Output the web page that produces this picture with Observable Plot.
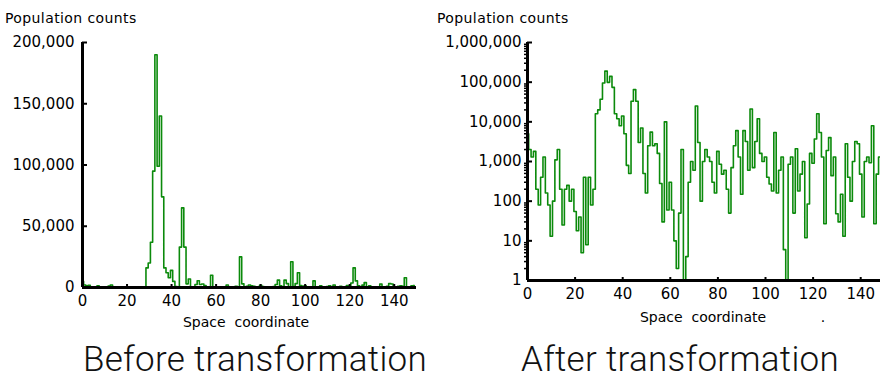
<!DOCTYPE html>
<html>
<head>
<meta charset="utf-8">
<script src="https://cdn.jsdelivr.net/npm/d3@7"></script>
<script src="https://cdn.jsdelivr.net/npm/@observablehq/plot@0.6"></script>
<style>
html, body { margin: 0; padding: 0; background: #fff; overflow: hidden; width: 880px; height: 379px; }
#root { position: relative; width: 880px; height: 379px; overflow: hidden; }
.panel { position: absolute; top: 0; height: 335px; }
.panel svg { max-width: none !important; }
.ylab { position: absolute; font-family: "DejaVu Sans"; font-size: 14px; line-height: 14px; letter-spacing: 0.4px; color: #000; white-space: pre; }
.xlab { position: absolute; font-family: "DejaVu Sans"; font-size: 14px; line-height: 14px; color: #000; white-space: pre; transform: translateX(-50%); }
.cap { position: absolute; font-family: "Roboto", "Liberation Sans"; font-weight: 300; font-size: 35px; line-height: 35px; letter-spacing: 0.3px; color: #111; white-space: nowrap; transform: translateX(-50%); }
</style>
</head>
<body>
<div id="root">
  <div class="ylab" style="left:5px; top:11px;">Population counts</div>
  <div class="ylab" style="left:437px; top:11px;">Population counts</div>
  <div class="panel" id="left" style="left:0px; width:440px;"></div>
  <div class="panel" id="right" style="left:440px; width:460px;"></div>
  <div class="xlab" style="left:246px; top:315px;">Space  coordinate</div>
  <div class="xlab" style="left:703px; top:310px;">Space  coordinate</div>
  <div class="xlab" style="left:823px; top:310px;">.</div>
  <div class="cap" style="left:255px; top:342px;">Before transformation</div>
  <div class="cap" style="left:680px; top:342px;">After transformation</div>
</div>
<script>
// Population counts at each integer space coordinate 0..149
const counts = [
  5000, 2000, 1300, 1800, 200, 80, 400, 1300, 160, 80,
  13, 100, 1100, 2000, 200, 25, 200, 250, 100, 200,
  55, 18, 40, 5, 400, 8, 400, 80, 200, 16000,
  20000, 37000, 95000, 190000, 99000, 140000, 74000, 16000, 12000, 8000,
  14000, 5000, 800, 500, 33000, 65000, 33000, 3000, 7000, 500,
  160, 2500, 5500, 2500, 2800, 1600, 280, 30, 10000, 60,
  300, 60, 10, 2, 50, 2000, 1, 4, 300, 1000,
  600, 25000, 3000, 100, 1000, 2000, 1300, 1000, 300, 160,
  1800, 850, 480, 600, 200, 50, 700, 2500, 6000, 1300,
  150, 6000, 3200, 600, 21000, 700, 3200, 12000, 1600, 1000,
  1300, 400, 270, 180, 5400, 160, 600, 1300, 6, 1,
  850, 1300, 50, 2100, 180, 480, 1000, 12, 85, 1600,
  900, 3700, 16000, 5400, 1300, 27, 1900, 4000, 440, 1300,
  48, 30, 150, 13, 2800, 400, 100, 1000, 3200, 2800,
  480, 40, 1000, 1300, 930, 8000, 27, 480, 1300, 1600
];
const xTicks = [0, 20, 40, 60, 80, 100, 120, 140];
const yTicksLinear = [0, 50000, 100000, 150000, 200000];
const yTicksLog = [1, 10, 100, 1000, 10000, 100000, 1000000];

const table = counts.map((c, i) => ({x: i, count: c}));
const GREEN = "#0b8a0b";
const fmt = d3.format(",");
const style = {fontFamily: "DejaVu Sans", fontSize: "15px", color: "#000", background: "transparent", overflow: "visible", maxWidth: "none"};

const left = Plot.plot({
  width: 440, height: 335,
  marginLeft: 82, marginRight: 24, marginTop: 42, marginBottom: 48,
  x: {domain: [0, 150], label: null},
  y: {domain: [0, 200000], label: null},
  style,
  marks: [
    Plot.line(table, {x: "x", y: "count", curve: "step", stroke: GREEN, strokeWidth: 1.6}),
    Plot.ruleX([0], {stroke: "#000", strokeWidth: 3}),
    Plot.ruleY([0], {stroke: "#000", strokeWidth: 3}),
    Plot.axisY(yTicksLinear, {tickSize: -5, tickPadding: 13, tickFormat: fmt, strokeWidth: 2, label: null}),
    Plot.axisX(xTicks, {tickSize: -3, tickPadding: 11, strokeWidth: 2, label: null})
  ]
});
document.getElementById("left").appendChild(left);

const minorTicks = d3.scaleLog().domain([1, 1e6]).ticks().filter(t => !yTicksLog.includes(t));

const right = Plot.plot({
  width: 460, height: 335,
  marginLeft: 87, marginRight: 16, marginTop: 42, marginBottom: 55,
  x: {domain: [0, 150], label: null},
  y: {type: "log", domain: [1, 1e6], label: null},
  style,
  marks: [
    Plot.line(table, {x: "x", y: "count", curve: "step", stroke: GREEN, strokeWidth: 1.6}),
    Plot.ruleX([0], {stroke: "#000", strokeWidth: 3}),
    Plot.ruleY([1], {stroke: "#000", strokeWidth: 3}),
    Plot.axisY(minorTicks, {tickSize: 3, tickFormat: () => "", strokeWidth: 1.5, label: null}),
    Plot.axisY(yTicksLog, {tickSize: -5, tickPadding: 11, tickFormat: fmt, strokeWidth: 2, label: null}),
    Plot.axisX(xTicks, {tickSize: -3, tickPadding: 11, strokeWidth: 2, label: null})
  ]
});
document.getElementById("right").appendChild(right);
</script>
</body>
</html>
